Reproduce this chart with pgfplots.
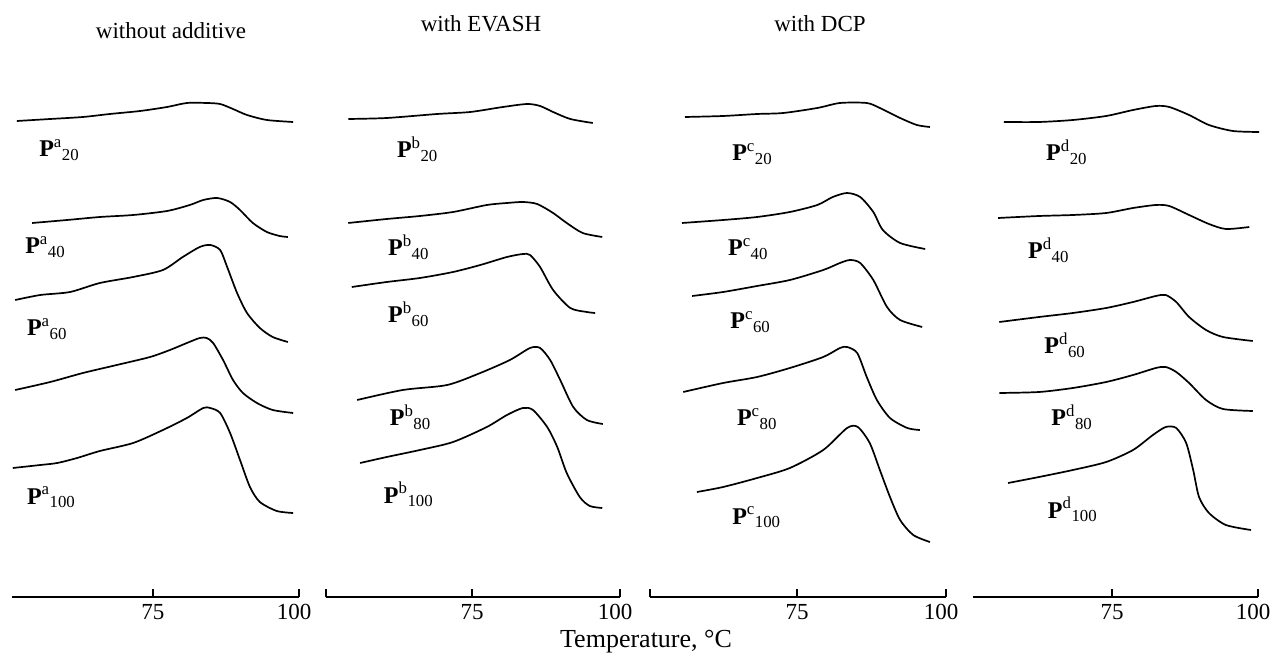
\documentclass[border=0pt]{standalone}
\usepackage{fontspec}
\setmainfont{Liberation Serif}
\usepackage{pgfplots}
\pgfplotsset{compat=1.18}

% one panel = one DSC stack; y is just -pixel row, only the temperature axis is shown
\pgfplotsset{
  panel/.style={
    anchor=south west, scale only axis, height=597pt,
    ymin=-597, ymax=0, xmax=100, clip=false,
    axis x line*=bottom, axis y line=none, ytick=\empty,
    xtick={75,100}, xticklabels={75,\hspace*{-10pt}100},
    tick align=inside, major tick length=8pt,
    x axis line style={line width=1.3pt},
    xtick style={line width=1.3pt, black},
    xticklabel style={font=\fontsize{23}{23}\selectfont, yshift=-4pt},
    every axis plot post/.append style={black, line width=1.7pt, smooth, tension=0.45, mark=none},
  },
}
\tikzset{lab/.style={anchor=base west, inner sep=0pt, font=\fontsize{24}{24}\selectfont}}
\newcommand{\Pl}[2]{\textbf{P}\textsuperscript{#1}\textsubscript{#2}}

\begin{document}
\begin{tikzpicture}[x=1pt,y=1pt]
\useasboundingbox (0,0) rectangle (1276,653);

% ---- without additive
\begin{axis}[panel, at={(12pt,56pt)}, xmin=50.86, width=287pt]
\addplot coordinates {(51.7,-121) (57.4,-119) (63.0,-117) (67.6,-114) (72.8,-111) (77.4,-107) (80.8,-103) (84.2,-103) (86.5,-104) (88.7,-109) (91.1,-115) (94.5,-120) (99.0,-122)};
\addplot coordinates {(54.3,-223) (60.3,-220) (65.9,-217) (71.6,-215) (77.4,-211) (81.3,-205) (83.6,-200) (86.0,-198) (88.2,-202) (89.9,-210) (92.1,-223) (94.5,-232) (96.7,-236) (98.1,-237)};
\addplot coordinates {(51.4,-300) (55.7,-295) (60.8,-292) (65.9,-283) (71.6,-277) (76.7,-270) (80.1,-257) (83.0,-247) (84.8,-245) (86.5,-250) (87.7,-267) (89.4,-293) (91.1,-313) (93.3,-328) (95.5,-337) (98.1,-342)};
\addplot coordinates {(51.4,-390) (57.4,-382) (63.0,-373) (68.8,-365) (74.5,-357) (77.9,-350) (80.8,-343) (83.0,-338) (84.2,-338) (85.3,-343) (87.0,-360) (88.7,-380) (90.4,-393) (92.8,-403) (95.5,-410) (99.0,-413)};
\addplot coordinates {(51.0,-468) (55.7,-465) (58.6,-463) (62.0,-458) (65.9,-451) (71.6,-443) (76.7,-430) (80.8,-418) (83.6,-408) (84.8,-408) (86.5,-413) (88.2,-433) (89.9,-460) (91.6,-487) (93.3,-502) (96.2,-511) (99.0,-513)};
\node[lab] at (axis cs:55.5,-157) {\Pl{a}{20}};
\node[lab] at (axis cs:53.1,-254) {\Pl{a}{40}};
\node[lab] at (axis cs:53.4,-336) {\Pl{a}{60}};
\node[lab] at (axis cs:53.4,-504) {\Pl{a}{100}};
\end{axis}

% ---- with EVASH
\begin{axis}[panel, at={(326pt,56pt)}, xmin=50.34, width=294pt,
  extra x ticks={50.34}, extra x tick labels={}]
\addplot coordinates {(54.1,-119) (60.6,-118) (69.1,-114) (74.7,-112) (80.2,-107) (84.3,-104) (86.5,-106) (88.7,-112) (91.6,-119) (95.4,-123)};
\addplot coordinates {(54.1,-223) (60.6,-219) (66.2,-216) (71.8,-212) (77.5,-205) (80.9,-203) (83.6,-202) (86.0,-204) (88.7,-213) (91.0,-223) (93.7,-233) (97.0,-237)};
\addplot coordinates {(54.7,-287) (60.6,-282) (66.2,-278) (71.8,-272) (76.4,-265) (80.9,-257) (83.6,-254) (84.8,-255) (86.5,-267) (88.7,-290) (91.6,-308) (94.4,-312) (95.8,-313)};
\addplot coordinates {(55.6,-400) (63.3,-390) (70.8,-385) (76.4,-373) (81.4,-360) (84.8,-348) (86.5,-348) (88.2,-360) (89.9,-380) (92.1,-407) (94.4,-420) (97.1,-424)};
\addplot coordinates {(56.1,-463) (60.6,-457) (66.2,-450) (71.8,-442) (77.5,-427) (80.9,-415) (83.6,-408) (85.3,-410) (87.7,-427) (89.4,-447) (91.0,-473) (93.2,-497) (94.9,-506) (97.0,-508)};
\node[lab] at (axis cs:62.3,-158) {\Pl{b}{20}};
\node[lab] at (axis cs:60.8,-256) {\Pl{b}{40}};
\node[lab] at (axis cs:60.8,-323) {\Pl{b}{60}};
\node[lab] at (axis cs:61.1,-426) {\Pl{b}{80}};
\node[lab] at (axis cs:60.1,-503) {\Pl{b}{100}};
\end{axis}

% ---- with DCP
\begin{axis}[panel, at={(650pt,56pt)}, xmin=50.33, width=296pt,
  extra x ticks={50.33}, extra x tick labels={}]
\addplot coordinates {(56.2,-117) (62.6,-116) (68.3,-114) (72.7,-113) (78.4,-108) (82.2,-103) (86.7,-103) (88.9,-108) (92.3,-118) (95.1,-125) (97.3,-127)};
\addplot coordinates {(55.7,-223) (62.6,-220) (68.3,-217) (73.8,-212) (78.4,-205) (81.0,-197) (83.4,-193) (85.6,-197) (87.8,-212) (89.4,-230) (92.3,-243) (96.5,-249)};
\addplot coordinates {(57.4,-296) (62.6,-292) (68.3,-286) (73.8,-280) (79.4,-270) (82.2,-263) (83.9,-260) (85.6,-263) (87.8,-280) (90.1,-307) (92.3,-320) (96.0,-327)};
\addplot coordinates {(55.9,-392) (62.6,-383) (68.3,-377) (73.8,-368) (79.4,-357) (82.2,-348) (83.4,-347) (85.1,-353) (86.7,-377) (88.4,-400) (90.6,-418) (93.5,-428) (95.6,-430)};
\addplot coordinates {(58.2,-492) (62.6,-487) (68.3,-478) (73.8,-468) (79.4,-450) (83.4,-428) (85.2,-427) (87.2,-443) (88.9,-470) (90.6,-497) (92.3,-520) (94.5,-535) (97.3,-542)};
\node[lab] at (axis cs:64.1,-161) {\Pl{c}{20}};
\node[lab] at (axis cs:63.4,-256) {\Pl{c}{40}};
\node[lab] at (axis cs:63.8,-329) {\Pl{c}{60}};
\node[lab] at (axis cs:64.9,-426) {\Pl{c}{80}};
\node[lab] at (axis cs:64.1,-524) {\Pl{c}{100}};
\end{axis}

% ---- fourth set (d)
\begin{axis}[panel, at={(973pt,56pt)}, xmin=51.2, width=285pt]
\addplot coordinates {(56.5,-122) (62.5,-122) (68.3,-120) (74.0,-116) (78.6,-110) (82.5,-106) (84.8,-107) (88.2,-115) (91.6,-125) (95.7,-131) (100.2,-132)};
\addplot coordinates {(55.5,-218) (62.5,-216) (68.3,-215) (74.0,-213) (78.6,-208) (82.5,-205) (84.8,-206) (88.2,-215) (91.6,-224) (94.5,-229) (98.5,-227)};
\addplot coordinates {(55.7,-322) (62.5,-317) (68.3,-313) (74.0,-308) (78.6,-302) (82.5,-296) (84.2,-295) (86.0,-302) (88.2,-317) (91.1,-330) (94.0,-337) (99.1,-341)};
\addplot coordinates {(55.7,-393) (62.5,-392) (68.3,-388) (74.0,-382) (78.6,-375) (82.5,-368) (84.2,-367) (86.0,-372) (88.2,-383) (91.1,-400) (94.0,-409) (99.1,-411)};
\addplot coordinates {(57.2,-483) (62.5,-477) (68.3,-470) (74.0,-462) (78.6,-450) (82.0,-435) (84.2,-427) (86.0,-428) (87.7,-443) (88.9,-470) (89.9,-497) (91.6,-513) (94.5,-525) (98.8,-530)};
\node[lab] at (axis cs:63.7,-161) {\Pl{d}{20}};
\node[lab] at (axis cs:60.6,-259) {\Pl{d}{40}};
\node[lab] at (axis cs:63.4,-354) {\Pl{d}{60}};
\node[lab] at (axis cs:64.6,-426) {\Pl{d}{80}};
\node[lab] at (axis cs:64.0,-518) {\Pl{d}{100}};
\end{axis}

% panel titles and common axis label
\begin{scope}[every node/.style={anchor=base, inner sep=0pt, font=\fontsize{23}{23}\selectfont}]
\node at (171,614) {without additive};
\node at (481,621) {with EVASH};
\node at (820,621) {with DCP};
\node[font=\fontsize{26}{26}\selectfont] at (646,6) {Temperature, °C};
\end{scope}
\end{tikzpicture}
\end{document}
